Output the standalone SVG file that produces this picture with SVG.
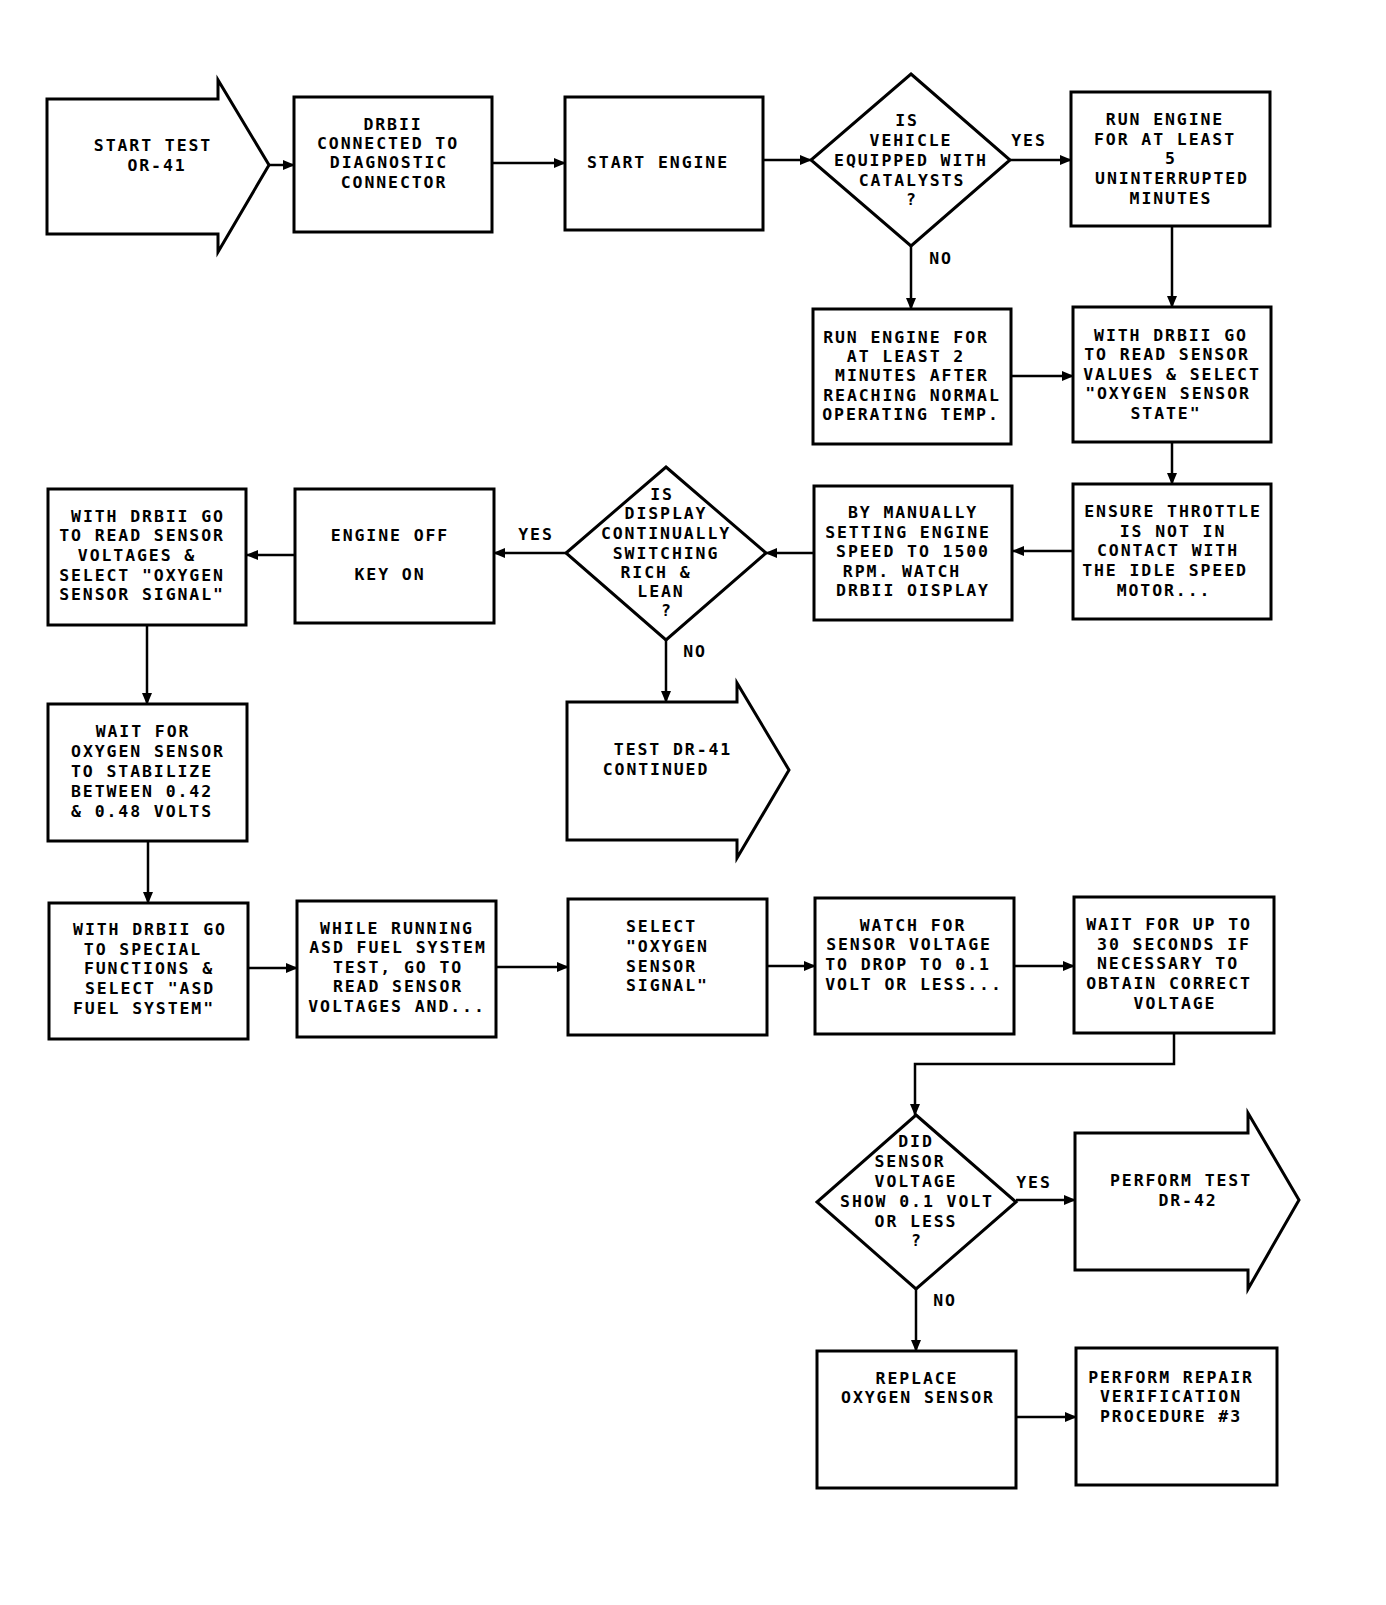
<svg xmlns="http://www.w3.org/2000/svg" width="1386" height="1605" viewBox="0 0 1386 1605">
<style>
.n{fill:#fff;stroke:#000;stroke-width:3;stroke-linejoin:miter}
.c{fill:none;stroke:#000;stroke-width:2.5}
text{font-family:"DejaVu Sans Mono","Liberation Mono",monospace;font-size:16.5px;font-weight:bold;letter-spacing:1.9px;fill:#000;text-anchor:middle}
.l{text-anchor:start}
</style>
<defs>
<marker id="ah" markerUnits="userSpaceOnUse" markerWidth="12" markerHeight="10" refX="11" refY="5" orient="auto">
<path d="M0,0 L12,5 L0,10 Z" fill="#000"/>
</marker>
</defs>
<rect width="1386" height="1605" fill="#fff"/>
<g id="connectors">
<line class="c" x1="269" y1="165" x2="294" y2="165" marker-end="url(#ah)"/>
<line class="c" x1="492" y1="163" x2="565" y2="163" marker-end="url(#ah)"/>
<line class="c" x1="763" y1="160" x2="811" y2="160" marker-end="url(#ah)"/>
<line class="c" x1="1010" y1="160" x2="1071" y2="160" marker-end="url(#ah)"/>
<line class="c" x1="1172" y1="226" x2="1172" y2="307" marker-end="url(#ah)"/>
<line class="c" x1="911" y1="246" x2="911" y2="309" marker-end="url(#ah)"/>
<line class="c" x1="1011" y1="376" x2="1073" y2="376" marker-end="url(#ah)"/>
<line class="c" x1="1172" y1="442" x2="1172" y2="484" marker-end="url(#ah)"/>
<line class="c" x1="1073" y1="551" x2="1013" y2="551" marker-end="url(#ah)"/>
<line class="c" x1="814" y1="553" x2="766" y2="553" marker-end="url(#ah)"/>
<line class="c" x1="566" y1="553" x2="494" y2="553" marker-end="url(#ah)"/>
<line class="c" x1="295" y1="555" x2="247" y2="555" marker-end="url(#ah)"/>
<line class="c" x1="147" y1="625" x2="147" y2="704" marker-end="url(#ah)"/>
<line class="c" x1="666" y1="640" x2="666" y2="702" marker-end="url(#ah)"/>
<line class="c" x1="148" y1="841" x2="148" y2="903" marker-end="url(#ah)"/>
<line class="c" x1="248" y1="968" x2="297" y2="968" marker-end="url(#ah)"/>
<line class="c" x1="496" y1="967" x2="568" y2="967" marker-end="url(#ah)"/>
<line class="c" x1="767" y1="966" x2="815" y2="966" marker-end="url(#ah)"/>
<line class="c" x1="1014" y1="966" x2="1074" y2="966" marker-end="url(#ah)"/>
<polyline class="c" points="1174,1033 1174,1064 915,1064 915,1115" marker-end="url(#ah)"/>
<line class="c" x1="1016" y1="1200" x2="1075" y2="1200" marker-end="url(#ah)"/>
<line class="c" x1="916" y1="1289" x2="916" y2="1351" marker-end="url(#ah)"/>
<line class="c" x1="1016" y1="1417" x2="1076" y2="1417" marker-end="url(#ah)"/>
<text x="1029" y="146">YES</text>
<text x="941" y="264">NO</text>
<text x="536" y="540">YES</text>
<text x="695" y="657">NO</text>
<text x="1034" y="1188">YES</text>
<text x="945" y="1306">NO</text>
</g>
<g id="start">
<path class="n" d="M47,99 H218 V80 L269,165 L218,252 V234 H47 Z"/>
<text x="153" y="151">START TEST</text>
<text x="157" y="171">OR-41</text>
</g>
<g id="connect">
<rect class="n" x="294" y="97" width="198" height="135"/>
<text x="393" y="130">DRBII</text>
<text x="388" y="149">CONNECTED TO</text>
<text x="389" y="168">DIAGNOSTIC</text>
<text x="394" y="188">CONNECTOR</text>
</g>
<g id="startengine">
<rect class="n" x="565" y="97" width="198" height="133"/>
<text x="658" y="168">START ENGINE</text>
</g>
<g id="catalysts">
<path class="n" d="M911,74 L1010,160 L911,246 L811,160 Z"/>
<text x="907" y="126">IS</text>
<text x="911" y="146">VEHICLE</text>
<text x="911" y="166">EQUIPPED WITH</text>
<text x="912" y="186">CATALYSTS</text>
<text x="912" y="205">?</text>
</g>
<g id="run5">
<rect class="n" x="1071" y="92" width="199" height="134"/>
<text x="1165" y="125">RUN ENGINE</text>
<text x="1165" y="145">FOR AT LEAST</text>
<text x="1171" y="164">5</text>
<text x="1172" y="184">UNINTERRUPTED</text>
<text x="1171" y="204">MINUTES</text>
</g>
<g id="run2">
<rect class="n" x="813" y="309" width="198" height="135"/>
<text x="906" y="343">RUN ENGINE FOR</text>
<text x="906" y="362">AT LEAST 2</text>
<text x="912" y="381">MINUTES AFTER</text>
<text x="912" y="401">REACHING NORMAL</text>
<text x="911" y="420">OPERATING TEMP.</text>
</g>
<g id="readvalues">
<rect class="n" x="1073" y="307" width="198" height="135"/>
<text x="1171" y="341">WITH DRBII GO</text>
<text x="1167" y="360">TO READ SENSOR</text>
<text x="1172" y="380">VALUES &amp; SELECT</text>
<text x="1168" y="399">"OXYGEN SENSOR</text>
<text x="1166" y="419">STATE"</text>
</g>
<g id="throttle">
<rect class="n" x="1073" y="484" width="198" height="135"/>
<text x="1173" y="517">ENSURE THROTTLE</text>
<text x="1173" y="537">IS NOT IN</text>
<text x="1168" y="556">CONTACT WITH</text>
<text x="1165" y="576">THE IDLE SPEED</text>
<text x="1164" y="596">MOTOR...</text>
</g>
<g id="manual">
<rect class="n" x="814" y="486" width="198" height="134"/>
<text x="913" y="518">BY MANUALLY</text>
<text x="908" y="538">SETTING ENGINE</text>
<text x="913" y="557">SPEED TO 1500</text>
<text x="902" y="577">RPM. WATCH</text>
<text x="913" y="596">DRBII OISPLAY</text>
</g>
<g id="switching">
<path class="n" d="M666,467 L766,553 L666,640 L566,553 Z"/>
<text x="662" y="500">IS</text>
<text x="666" y="519">DISPLAY</text>
<text x="666" y="539">CONTINUALLY</text>
<text x="666" y="559">SWITCHING</text>
<text x="656" y="578">RICH &amp;</text>
<text x="661" y="597">LEAN</text>
<text x="667" y="616">?</text>
</g>
<g id="engineoff">
<rect class="n" x="295" y="489" width="199" height="134"/>
<text x="390" y="541">ENGINE OFF</text>
<text x="390" y="580">KEY ON</text>
</g>
<g id="readvoltages">
<rect class="n" x="48" y="489" width="198" height="136"/>
<text x="148" y="522">WITH DRBII GO</text>
<text x="142" y="541">TO READ SENSOR</text>
<text x="137" y="561">VOLTAGES &amp;</text>
<text x="142" y="581">SELECT "OXYGEN</text>
<text x="142" y="600">SENSOR SIGNAL"</text>
</g>
<g id="continued">
<path class="n" d="M567,702 H737 V683 L789,770 L737,858 V840 H567 Z"/>
<text x="673" y="755">TEST DR-41</text>
<text x="656" y="775">CONTINUED</text>
</g>
<g id="stabilize">
<rect class="n" x="48" y="704" width="199" height="137"/>
<text x="143" y="737">WAIT FOR</text>
<text x="148" y="757">OXYGEN SENSOR</text>
<text x="142" y="777">TO STABILIZE</text>
<text x="142" y="797">BETWEEN 0.42</text>
<text x="142" y="817">&amp; 0.48 VOLTS</text>
</g>
<g id="special">
<rect class="n" x="49" y="903" width="199" height="136"/>
<text x="150" y="935">WITH DRBII GO</text>
<text x="143" y="955">TO SPECIAL</text>
<text x="149" y="974">FUNCTIONS &amp;</text>
<text x="150" y="994">SELECT "ASD</text>
<text x="144" y="1014">FUEL SYSTEM"</text>
</g>
<g id="asd">
<rect class="n" x="297" y="901" width="199" height="136"/>
<text x="397" y="934">WHILE RUNNING</text>
<text x="398" y="953">ASD FUEL SYSTEM</text>
<text x="398" y="973">TEST, GO TO</text>
<text x="398" y="992">READ SENSOR</text>
<text x="397" y="1012">VOLTAGES AND...</text>
</g>
<g id="selectsignal">
<rect class="n" x="568" y="899" width="199" height="136"/>
<text class="l" x="626" y="932">SELECT</text>
<text class="l" x="626" y="952">"OXYGEN</text>
<text class="l" x="626" y="972">SENSOR</text>
<text class="l" x="626" y="991">SIGNAL"</text>
</g>
<g id="watch">
<rect class="n" x="815" y="898" width="199" height="136"/>
<text x="913" y="931">WATCH FOR</text>
<text x="909" y="950">SENSOR VOLTAGE</text>
<text x="908" y="970">TO DROP TO 0.1</text>
<text x="914" y="990">VOLT OR LESS...</text>
</g>
<g id="wait30">
<rect class="n" x="1074" y="897" width="200" height="136"/>
<text x="1169" y="930">WAIT FOR UP TO</text>
<text x="1174" y="950">30 SECONDS IF</text>
<text x="1168" y="969">NECESSARY TO</text>
<text x="1169" y="989">OBTAIN CORRECT</text>
<text x="1175" y="1009">VOLTAGE</text>
</g>
<g id="didshow">
<path class="n" d="M916,1115 L1016,1202 L916,1289 L817,1202 Z"/>
<text x="916" y="1147">DID</text>
<text x="910" y="1167">SENSOR</text>
<text x="916" y="1187">VOLTAGE</text>
<text x="917" y="1207">SHOW 0.1 VOLT</text>
<text x="916" y="1227">OR LESS</text>
<text x="917" y="1246">?</text>
</g>
<g id="dr42">
<path class="n" d="M1075,1133 H1248 V1113 L1299,1200 L1248,1289 V1270 H1075 Z"/>
<text x="1181" y="1186">PERFORM TEST</text>
<text x="1188" y="1206">DR-42</text>
</g>
<g id="replace">
<rect class="n" x="817" y="1351" width="199" height="137"/>
<text x="917" y="1384">REPLACE</text>
<text x="918" y="1403">OXYGEN SENSOR</text>
</g>
<g id="verify">
<rect class="n" x="1076" y="1348" width="201" height="137"/>
<text x="1171" y="1383">PERFORM REPAIR</text>
<text x="1171" y="1402">VERIFICATION</text>
<text x="1171" y="1422">PROCEDURE #3</text>
</g>
</svg>
